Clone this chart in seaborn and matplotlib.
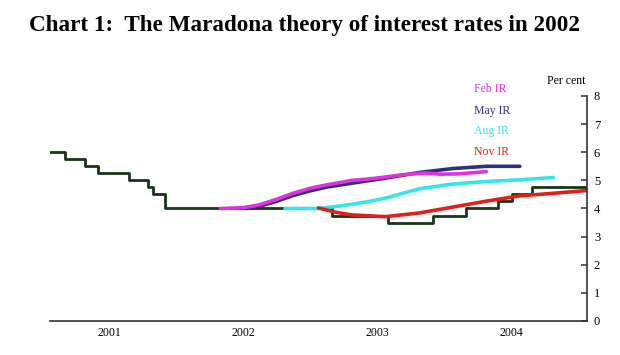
import matplotlib
matplotlib.use("Agg")
import matplotlib.pyplot as plt
import seaborn as sns

sns.set_style("white")
plt.rcParams['font.family'] = ['Liberation Serif', 'DejaVu Serif']
plt.rcParams['text.color'] = 'black'
plt.rcParams['xtick.color'] = 'black'
plt.rcParams['ytick.color'] = 'black'

# Bank rate (actual), step changes
rate_x = [2001.0, 2001.11, 2001.26, 2001.36, 2001.59, 2001.73, 2001.77, 2001.86,
          2003.10, 2003.52, 2003.85, 2004.10, 2004.34, 2004.44, 2004.59, 2005.0]
rate_y = [6.0, 5.75, 5.5, 5.25, 5.0, 4.75, 4.5, 4.0,
          3.75, 3.5, 3.75, 4.0, 4.25, 4.5, 4.75, 4.75]

# Inflation Report market rate projections
feb_x = [2002.27, 2002.44, 2002.56, 2002.69, 2002.81, 2002.94, 2003.06, 2003.16,
         2003.25, 2003.375, 2003.5, 2003.625, 2003.79, 2003.91, 2004.04, 2004.25]
feb_y = [4.0, 4.03, 4.13, 4.33, 4.54, 4.72, 4.84, 4.92,
         5.0, 5.05, 5.12, 5.20, 5.26, 5.22, 5.23, 5.31]

may_x = [2002.47, 2002.56, 2002.69, 2002.81, 2002.94, 2003.06, 2003.25, 2003.5,
         2003.75, 2004.0, 2004.25, 2004.5]
may_y = [4.02, 4.08, 4.26, 4.46, 4.63, 4.76, 4.90, 5.08, 5.28, 5.42, 5.50, 5.50]

aug_x = [2002.75, 2003.0, 2003.125, 2003.25, 2003.375, 2003.5, 2003.75,
         2004.0, 2004.25, 2004.5, 2004.75]
aug_y = [4.0, 4.0, 4.07, 4.15, 4.25, 4.37, 4.70, 4.87, 4.96, 5.02, 5.10]

nov_x = [2003.0, 2003.125, 2003.25, 2003.375, 2003.5, 2003.75, 2004.0,
         2004.25, 2004.5, 2004.75, 2005.0]
nov_y = [4.02, 3.87, 3.77, 3.74, 3.71, 3.84, 4.05, 4.26, 4.45, 4.54, 4.64]

years = ["2001", "2002", "2003", "2004"]
y_ticks = [0, 1, 2, 3, 4, 5, 6, 7, 8]

colors = {"Feb IR": "#e033e0", "May IR": "#2e2e86", "Aug IR": "#35e6e6", "Nov IR": "#e0201a"}

fig = plt.figure(figsize=(6.2, 3.55), dpi=100)
ax = fig.add_axes([0.0806, 0.0958, 0.8661, 0.6338])

sns.lineplot(x=rate_x, y=rate_y, ax=ax, color="#173617", lw=2.0, drawstyle="steps-post")
sns.lineplot(x=may_x, y=may_y, ax=ax, color=colors["May IR"], lw=2.6)
sns.lineplot(x=feb_x, y=feb_y, ax=ax, color=colors["Feb IR"], lw=2.6)
sns.lineplot(x=aug_x, y=aug_y, ax=ax, color=colors["Aug IR"], lw=2.6)
sns.lineplot(x=nov_x, y=nov_y, ax=ax, color=colors["Nov IR"], lw=2.6)

ax.set_xlim(2001, 2005)
ax.set_ylim(0, 8)

# axes styling: only bottom and right spines
for s in ["top", "left"]:
    ax.spines[s].set_visible(False)
for s in ["bottom", "right"]:
    ax.spines[s].set_color("#333333")
    ax.spines[s].set_linewidth(1.2)

ax.yaxis.tick_right()
ax.set_yticks(y_ticks)
ax.tick_params(axis="y", direction="in", length=4, width=1.1, color="#333333",
               labelsize=9, pad=5, left=False, right=True)
ax.set_xticks([2001, 2002, 2003, 2004, 2005])
ax.set_xticklabels([])
ax.set_xticks([2001.44, 2002.44, 2003.44, 2004.44], minor=True)
ax.set_xticklabels(years, minor=True)
ax.tick_params(axis="x", which="major", direction="in", length=4, width=1.1, color="#333333")
ax.tick_params(axis="x", which="minor", length=0, labelsize=8.5, pad=4)
ax.set_xlabel("")
ax.set_ylabel("")
ax.grid(False)

# labels for the projections
label_y = [8.26, 7.47, 6.74, 6.02]
for (name, c), yy in zip(colors.items(), label_y):
    ax.text(2004.16, yy, name, color=c, fontsize=8.5, va="center", ha="left", clip_on=False)

ax.text(2004.99, 8.55, "Per cent", fontsize=8.5, ha="right", va="center", clip_on=False)

fig.text(0.047, 0.927, "Chart 1:  The Maradona theory of interest rates in 2002",
         fontsize=16.7, fontweight="bold", ha="left", va="center")

fig.savefig("out.png", dpi=100)
